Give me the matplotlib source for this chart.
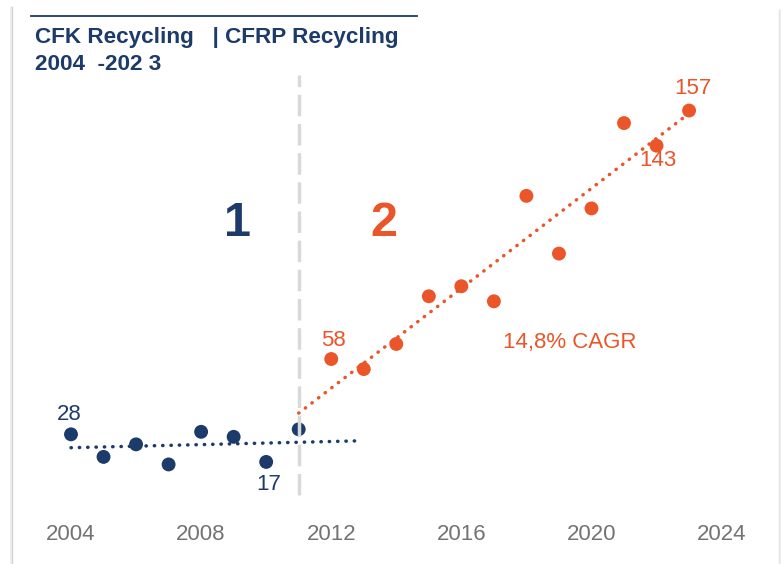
import numpy as np
import matplotlib.pyplot as plt
from matplotlib.lines import Line2D

plt.rcParams['font.family'] = ['Liberation Sans', 'DejaVu Sans']

# CFK recycling volumes, phase 1 (2004-2011) and phase 2 (2012-2023)
years_cfk = [2004, 2005, 2006, 2007, 2008, 2009, 2010, 2011]
cfk = [28, 19, 24, 16, 29, 27, 17, 30]
years_cfrp = [2012, 2013, 2014, 2015, 2016, 2017, 2018, 2019, 2020, 2021, 2022, 2023]
cfrp = [58, 54, 64, 83, 87, 81, 123, 100, 118, 152, 143, 157]
xticks = [2004, 2008, 2012, 2016, 2020, 2024]
split_year = 2011
cagr_text = "14,8% CAGR"

navy = '#1d3b6a'
orange = '#ea5529'
gray = '#737373'

W, H = 782, 564
fig = plt.figure(figsize=(W / 100, H / 100), dpi=100)

# axes placed so that 2004 sits at x=71px and 0 at y=504.6px
px_year = 32.53
px_unit = 2.51
left_px, right_px = 30, 760
y0_px = 504.6
ytop = 173
ax = fig.add_axes([left_px / W, (H - y0_px) / H,
                   (right_px - left_px) / W, ytop * px_unit / H])
ax.set_xlim(2004 - (71 - left_px) / px_year, 2004 + (right_px - 71) / px_year)
ax.set_ylim(0, ytop)
for s in ax.spines.values():
    s.set_visible(False)
ax.set_yticks([])
ax.set_xticks(xticks)
ax.tick_params(axis='x', length=0, pad=14, labelsize=16, labelcolor=gray)

# linear trends for each phase
yc = np.array(years_cfk)
p1 = np.polyfit(yc, cfk, 1)
t1 = np.array([2004, 2012.85])
ax.plot(t1, np.polyval(p1, t1), color=navy, lw=2.5,
        linestyle=(0, (0.1, 2.3)), dash_capstyle='round', zorder=2)

yr2 = np.array([split_year] + years_cfrp)
v2 = np.array([cfk[-1]] + cfrp)
p2 = np.polyfit(yr2, v2, 1)
t2 = np.array([split_year, 2023])
ax.plot(t2, np.polyval(p2, t2), color=orange, lw=2.5,
        linestyle=(0, (0.1, 2.3)), dash_capstyle='round', zorder=2)

ax.scatter(years_cfk, cfk, s=100, color=navy, edgecolor='none', zorder=3)
ax.scatter(years_cfrp, cfrp, s=100, color=orange, edgecolor='none', zorder=3)

# phase divider
ax.axvline(split_year, ymin=0.022, ymax=0.989, color='#d9d9d9', lw=2.5,
           linestyle=(0, (6.2, 2.2)), zorder=4)

# value labels (offsets to the text baseline, in points)
lab_cfk = {2004: (-1, 10.6), 2010: (2, -20.3)}
lab_cfrp = {2012: (1.4, 9.4), 2022: (0.7, -14.3), 2023: (3, 11.6)}
for yr, off in lab_cfk.items():
    v = cfk[years_cfk.index(yr)]
    ax.annotate(str(v), (yr, v), xytext=off, textcoords='offset points',
                ha='center', va='baseline', fontsize=16, color=navy)
for yr, off in lab_cfrp.items():
    v = cfrp[years_cfrp.index(yr)]
    ax.annotate(str(v), (yr, v), xytext=off, textcoords='offset points',
                ha='center', va='baseline', fontsize=16, color=orange)

ax.text(2009.12, 106.9, '1', ha='center', va='baseline', fontsize=35,
        fontweight='bold', color=navy)
ax.text(2013.62, 106.9, '2', ha='center', va='baseline', fontsize=35,
        fontweight='bold', color=orange)
ax.text(2019.33, 62.2, cagr_text, ha='center', va='baseline', fontsize=16,
        color=orange)

# header
fig.add_artist(Line2D([31 / W, 417 / W], [1 - 16 / H, 1 - 16 / H],
                      color=navy, lw=1.3))
fig.text(35 / W, 1 - 43.3 / H, 'CFK Recycling   | CFRP Recycling',
         fontsize=16.2, fontweight='bold', color=navy, va='baseline')
fig.text(35 / W, 1 - 70 / H, '2004  -202 3', fontsize=16.2,
         fontweight='bold', color=navy, va='baseline')

# card edges
fig.add_artist(Line2D([10.5 / W, 10.5 / W], [0, 1 - 7 / H], color='#ececec', lw=1.2))
fig.add_artist(Line2D([11.8 / W, 11.8 / W], [0, 1 - 7 / H], color='#d2d2d2', lw=1.0))
fig.add_artist(Line2D([778.5 / W, 778.5 / W], [0, 1 - 10 / H], color='#d2d2d2', lw=1.0))
fig.add_artist(Line2D([780 / W, 780 / W], [0, 1 - 10 / H], color='#ececec', lw=1.2))

fig.savefig('out.png', dpi=100)
